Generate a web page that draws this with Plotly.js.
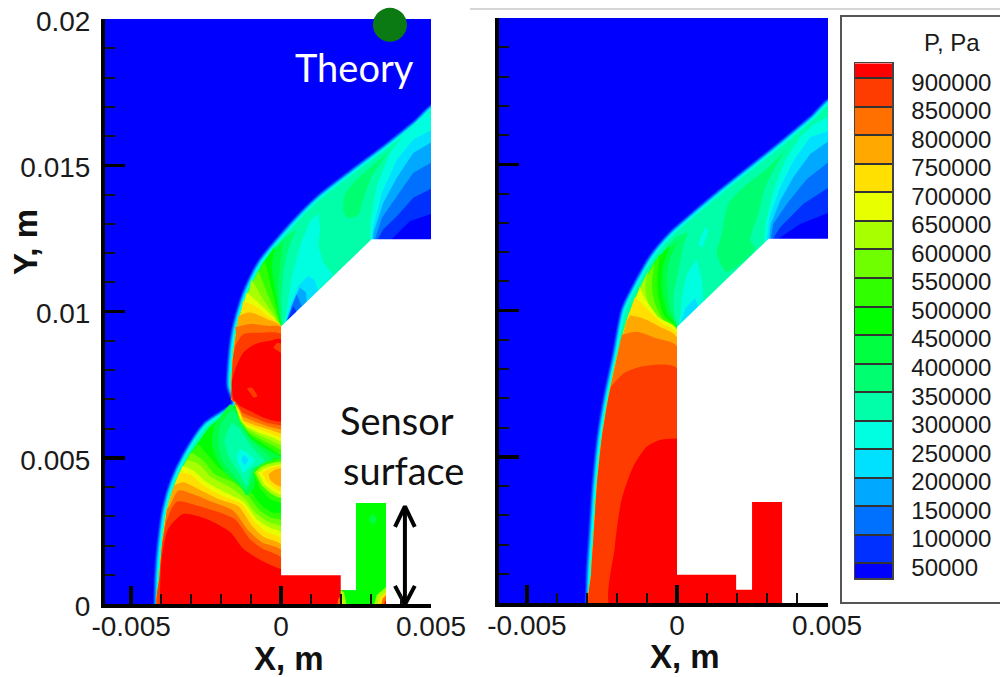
<!DOCTYPE html>
<html>
<head>
<meta charset="utf-8">
<script src="https://cdn.plot.ly/plotly-3.0.1.min.js"></script>
<style>html,body{margin:0;padding:0;background:#fff}#chart{width:1000px;height:677px}</style>
</head>
<body>
<div id="chart"></div>
<script>
// Pressure legend
const bandTop = [50000,100000,150000,200000,250000,300000,350000,400000,450000,500000,550000,600000,650000,700000,750000,800000,850000,900000,950000];
const bandColors = ['#0000ff','#0030ff','#0070ff','#00a8ff','#00e0ff','#00ffe0','#00ffa8','#00ff70','#00ff40','#00ff00','#30ff00','#70ff00','#a8ff00','#e8ff00','#ffe000','#ffa800','#ff7000','#ff3c00','#ff0000'];
const legendLevels = [50000,100000,150000,200000,250000,300000,350000,400000,450000,500000,550000,600000,650000,700000,750000,800000,850000,900000];
const legendEdges = [23700,50000,100000,150000,200000,250000,300000,350000,400000,450000,500000,550000,600000,650000,700000,750000,800000,850000,900000,926300];
const legendMid = [25000,75000,125000,175000,225000,275000,325000,375000,425000,475000,525000,575000,625000,675000,725000,775000,825000,875000,925000];
const xTicks = [-0.005,0,0.005];
const xTickText = ['-0.005','0','0.005'];
const yTicks = [0,0.005,0.01,0.015,0.02];
const yTickText = ['0','0.005','0.01','0.015','0.02'];

// All contour outlines below are x,y pairs in millimetres.
// ---- Right panel
const R_shock = [-2.93,-.3,-2.9,1.02,-2.82,2.27,-2.71,3.98,-2.54,5.68,-2.32,7.05,-2.04,8.41,-1.73,10.03,-1.29,10.95,-.79,11.83,-.13,12.62,.2,12.92,.77,13.42,1.33,13.9,2.1,14.53,2.87,15.15,3.55,15.71,4.53,16.55,5.2,17.15,5.2,-.3];
const R_strip = [-2.89,-.3,-2.86,1.02,-2.78,2.27,-2.67,3.98,-2.5,5.68,-2.28,7.05,-2.0,8.41,-1.67,9.67,-1.27,10.69,-.71,11.71,-.04,12.51];
const R_350 = [.38,12.68,.21,12.17,.05,11.37,-.12,10.46,-.06,9.56];
const R_400 = [.05,12.4,-.29,11.6,-.32,10.69,-.23,10.01,0,9.5];
const R_450 = [-.23,12.23,-.47,11.49,-.51,10.69,-.32,9.9,-.03,9.46];
const R_500 = [-.56,11.94,-.65,11.26,-.62,10.46,-.4,9.78,-.03,9.44];
const R_550 = [-.76,11.6,-.84,10.81,-.73,10.24,-.45,9.67,-.06,9.42];
const R_600 = [-.95,11.37,-1.06,10.81,-.95,10.24,-.51,9.61,-.06,9.4];
const R_650 = [-1.25,10.81,-1.06,10.41,-.62,9.78,0,9.35];
const R_700 = [-1.4,10.46,-1.06,10.12,-.56,9.61,0,9.21];
const R_750 = [-1.56,9.84,-1.12,9.73,-.56,9.44,0,9.08];
const R_800 = [-1.84,9.16,-1.34,9.27,-.67,9.04,0,8.78];
const R_850 = [-2.2,7.4,-1.79,7.84,-1.24,8.07,-.01,8.03];
const R_900 = [-.01,5.62,-.57,5.57,-1.01,5.34,-1.46,4.66,-1.85,3.52,-2.07,1.93,-2.18,-.3,3.5,-.3,3.5,5.62];
const R_fan300 = [5.2,16.7,4.55,16.37,4.1,15.92,3.6,15.12,3.21,14.1,2.94,12.96,2.9,12.3,5.2,12.3];
const R_fan250 = [5.2,16.2,4.44,15.92,3.88,15.12,3.44,14.21,3.08,13.19,2.99,12.3,5.2,12.3];
const R_fan200 = [5.2,15.9,4.44,15.35,3.88,14.56,3.44,13.76,3.13,12.96,3.05,12.3,5.2,12.3];
const R_fan150 = [5.2,15.2,4.33,14.5,3.66,13.65,3.21,12.96,3.1,12.3,5.2,12.3];
const R_fan100 = [5.2,14.3,4.21,13.65,3.44,12.85,3.1,12.3,5.2,12.3];
const R_fan50 = [5.2,13.4,4.1,12.96,3.16,12.3,5.2,12.3];
const R_core = [3.64,15.52,2.99,14.84,2.21,14.21,1.71,13.65,1.49,12.62,1.33,11.94,1.66,11.32,2.6,12.11,2.44,12.4,2.71,13.31,2.94,14.21,3.33,15.01];
const R_cyan = [.66,11.77,.33,11.26,.16,10.46,.07,9.5,.88,10.3,.83,11.03];
const R_sky = [.6,10.44,.3,10.12,.13,9.61,.71,10.12];
const R_spot = [.94,12.85,.71,12.23,.83,12.17,1.05,12.74];
const R_body = [0,9.44,0,.97,1.97,.97,1.97,.45,2.5,.45,2.5,3.45,3.5,3.45,3.5,-.3,5.3,-.3,5.3,12.45,3.05,12.45];

// ---- Left panel
const L_shock = [-4.12,-.3,-4.09,.98,-4.0,2.11,-3.84,3.25,-3.58,4.17,-3.16,5.08,-2.49,6.1,-1.53,6.83,-1.69,7.46,-1.65,8.37,-1.54,9.27,-1.35,10.05,-1.13,10.7,-.65,11.67,.08,12.58,.74,13.32,1.3,13.87,2.41,14.75,3.52,15.6,4.52,16.42,5.2,17,5.2,-.3];
const L_stripLow = [-4.08,-.3,-4.05,.98,-3.96,2.11,-3.8,3.25,-3.5,4.2,-3.07,5.08,-2.42,6.02,-1.53,6.83];
const L_stripUp = [-1.62,6.95,-1.65,7.46,-1.61,8.37,-1.5,9.27,-1.31,10.07,-1.05,10.76,-.57,11.7,.15,12.55,.81,13.27];
const L_350 = [.52,12.81,.24,12.13,.08,11.33,.02,10.31,.04,9.57];
const L_400 = [.08,12.47,-.03,11.67,-.09,10.65,0,9.63];
const L_450 = [-.2,12.24,-.31,11.56,-.2,10.76,-.03,9.63];
const L_500 = [-.53,11.73,-.31,10.76,-.03,9.57];
const L_550 = [-.76,11.39,-.42,10.53,-.03,9.53];
const L_600 = [-.98,11.1,-.53,10.31,-.03,9.51];
const L_650 = [-1.14,10.65,-.64,10.19,-.09,9.57];
const L_700 = [-1.26,10.36,-.87,10.19,-.37,9.8,.02,9.49];
const L_750 = [-1.42,9.85,-1.03,9.97,-.48,9.74,.02,9.48];
const L_800 = [-1.53,9.46,-1.03,9.57,-.48,9.51,.02,9.45];
const L_850 = [-1.53,8.82,-1.26,9.22,-.7,9.27,.02,9.22];
const L_blob = [-1.61,7.09,-1.64,7.57,-1.53,8.02,-1.26,8.59,-.87,8.88,-.42,8.99,.02,9.05,.2,7.5,.02,6.26,-.59,6.38,-1.03,6.6,-1.37,6.77,-1.57,6.98];
const L_blobSpot1 = [-1.14,7.37,-.98,7.4,-.79,7.09,-.92,7.06];
const L_blobSpot2 = [-.26,8.76,-.12,8.93,.02,8.88,.02,8.57];
const L_fan300 = [5.2,16.9,4.63,16.61,4.19,16.16,3.63,15.42,3.19,14.28,2.97,13.03,2.97,12.3,5.2,12.3];
const L_fan250 = [5.2,16.3,4.41,15.88,3.86,15.19,3.36,14.06,3.06,12.81,3.02,12.3,5.2,12.3];
const L_fan200 = [5.2,15.9,4.41,15.42,3.86,14.57,3.41,13.72,3.08,12.69,3.06,12.3,5.2,12.3];
const L_fan150 = [5.2,15.2,4.41,14.74,3.86,13.94,3.36,13.2,3.08,12.3,5.2,12.3];
const L_fan100 = [5.2,14.3,4.41,13.89,3.86,13.26,3.41,12.81,3.13,12.3,5.2,12.3];
const L_fan50 = [5.2,13.4,4.3,13.09,3.52,12.3,5.2,12.3];
const L_cyan = [1.24,13.35,.97,13.09,.63,12.24,.36,11.22,.13,9.63,1.74,11.25,1.41,11.67,1.24,12.24,1.3,12.81];
const L_sky = [.91,11.22,.58,10.88,.3,10.19,.13,9.57,1.24,10.71,1.13,11.05];
const L_low200 = [.63,10.82,.41,10.31,.21,9.74,.86,10.31,.83,10.65];
const L_low150 = [.52,10.59,.36,10.19,.19,9.68,.69,10.19];
const L_low100 = [.41,10.19,.21,9.68,.52,9.99];
const L_core = [3.63,15.53,3.08,15.02,2.52,14.51,2.13,14,2.08,13.43,2.24,13.2,2.58,13.32,2.74,13.83,3.02,14.63];
const L_mid = [-1.53,6.83,-2.42,6.02,-3.07,5.08,-3.5,4.2,-3.8,3.25,-3.96,2.11,-4.05,.98,-4.08,-.3,.3,-.3,.3,6.9];
const L_low500 = [-2.76,5.47,-2.42,5.07,-2.03,4.62,-1.48,4.27,-1.03,3.88,-.7,3.42,-.31,3.14,.02,3.08];
const L_low550 = [-2.98,5.18,-2.59,4.9,-2.2,4.44,-1.59,4.16,-1.09,3.71,-.76,3.25,-.37,2.97,.02,2.85];
const L_low600 = [-3.14,4.93,-2.76,4.79,-2.31,4.33,-1.7,3.99,-1.2,3.59,-.87,3.14,-.42,2.8,.02,2.63];
const L_low650 = [-3.28,4.73,-2.92,4.56,-2.48,4.16,-1.87,3.82,-1.26,3.5,-.81,2.91,-.42,2.63,.02,2.43];
const L_low700 = [-3.39,4.5,-3.03,4.44,-2.59,4.05,-1.98,3.71,-1.31,3.42,-.87,2.8,-.48,2.46,.02,2.23];
const L_low750 = [-3.57,4.05,-3.26,4.16,-2.76,3.93,-2.09,3.59,-1.42,3.34,-.98,2.68,-.57,2.29,.02,2.02];
const L_low800 = [-3.7,3.37,-3.42,3.88,-2.87,3.73,-2.31,3.5,-1.59,3.19,-1.09,2.51,-.64,2.11,.02,1.83];
const L_low850 = [-3.83,2.8,-3.48,3.5,-2.81,3.37,-2.03,3.12,-1.53,2.89,-1.03,2.21,-.64,1.91,.02,1.57];
const L_low900 = [-4.05,-.3,-3.98,1.55,-3.76,2.57,-3.26,3.08,-2.48,2.91,-1.7,2.46,-1.26,1.89,-.76,1.55,.02,1.2,2.05,1.2,2.05,-.3];
const L_c400 = [-1.7,6.83,-2.2,6.15,-2.31,5.52,-2.2,5.07,-1.87,4.5,-1.37,4.05,-1.14,3.71,-.87,4.05,-.87,4.5,-.26,4.96,.02,5.01,-.48,5.3,-1.03,5.7,-1.31,6.2,-1.48,6.66];
const L_c350 = [-1.64,6.66,-2.03,6.09,-2.09,5.41,-1.92,4.84,-1.48,4.27,-1.17,3.88,-.94,4.39,-.87,4.62,-.31,4.9,-.59,5.24,-.98,5.58,-1.31,6.09,-1.48,6.49];
const L_c300 = [-1.64,6.2,-1.87,5.64,-1.76,5.07,-1.42,4.5,-1.14,4.05,-.98,4.62,-.53,4.84,-.81,5.18,-1.09,5.52,-1.37,5.98];
const L_c250 = [-1.37,5.3,-1.48,5.01,-1.26,4.5,-1.09,4.62,-.87,4.9,-1.14,5.18];
const L_c200 = [-1.23,5.1,-1.33,4.93,-1.2,4.75,-1.09,4.93];
const L_hot500 = [-.92,4.5,-.64,4.79,.08,4.96,.08,3.48,-.37,3.59,-.72,3.99];
const L_hot600 = [-.87,4.5,-.59,4.73,.08,4.84,.08,3.62,-.31,3.76,-.64,4.05];
const L_hot650 = [-.76,4.5,-.48,4.67,.08,4.75,.08,3.73,-.31,3.88,-.57,4.1];
const L_hot700 = [-.64,4.48,-.37,4.64,.08,4.7,.08,3.84,-.26,3.99,-.5,4.22];
const L_hot750 = [-.42,4.44,-.2,4.59,.08,4.64,.08,3.99,-.2,4.1,-.37,4.25];
const L_up500 = [-1.53,6.83,-1.37,6.2,-1.03,5.75,-.53,5.43,.02,5.07,.3,7.5,-1.3,7.5];
const L_up550 = [-1.53,6.83,-1.37,6.26,-1.09,5.87,-.59,5.58,-.26,5.41,.02,5.24,.3,7.5,-1.3,7.5];
const L_up600 = [-1.53,6.83,-1.37,6.32,-1.12,5.98,-.64,5.73,-.26,5.55,.02,5.41,.3,7.5,-1.3,7.5];
const L_up650 = [-1.53,6.83,-1.37,6.38,-1.17,6.07,-.7,5.84,-.31,5.7,.02,5.55,.3,7.5,-1.3,7.5];
const L_up700 = [-1.53,6.83,-1.37,6.49,-1.2,6.15,-.76,5.98,-.31,5.81,.02,5.68,.3,7.5,-1.3,7.5];
const L_up750 = [-1.53,6.83,-1.39,6.6,-1.26,6.26,-.87,6.11,-.37,5.96,.02,5.82,.3,7.5,-1.3,7.5];
const L_up800 = [-1.53,6.83,-1.41,6.72,-1.28,6.41,-.87,6.23,-.42,6.07,.02,5.96,.3,7.5,-1.3,7.5];
const L_up850 = [-1.53,6.83,-1.46,6.83,-1.31,6.55,-.92,6.38,-.48,6.2,.02,6.09,.3,7.5,-1.3,7.5];
const L_body = [0,9.49,0,.98,1.99,.98,1.99,.47,2.5,.47,2.5,3.45,3.5,3.45,3.5,-.3,5.3,-.3,5.3,12.47,3.02,12.47];
const S_green = [1.99,-.3,1.99,.47,2.5,.47,2.5,3.45,3.5,3.45,3.5,-.3];
const S_spot = [3.07,3.1,2.93,2.91,3.07,2.72,3.2,2.91];
const S_r600 = [3.02,-.3,3.19,.3,3.5,.58,3.5,-.3];
const S_r700 = [3.16,-.3,3.3,.24,3.5,.41,3.5,-.3];
const S_r800 = [3.27,-.3,3.39,.18,3.5,.3,3.5,-.3];
const S_r900 = [3.39,-.3,3.46,.07,3.5,.13,3.5,-.3];
const S_l600 = [1.99,.47,2.1,.4,2.24,-.3,1.99,-.3];
const S_l700 = [1.99,.35,2.02,.3,2.12,-.3,1.99,-.3];
const S_l800 = [1.85,-.3,1.9,.15,1.99,.28,2.05,-.3];
const arrowX = [4.13,4.13,null,3.8,4.13,4.46,null,3.8,4.13,4.46];
const arrowY = [0,3.34,null,2.64,3.34,2.64,null,.62,-.02,.62];

const colorOf = p => bandColors[bandTop.indexOf(p)];
function unzip(a){const x=[],y=[];for(let i=0;i<a.length;i+=2){x.push(a[i]==null?null:a[i]/1000);y.push(a[i+1]==null?null:a[i+1]/1000);}return {x,y};}
function poly(a,p,ax,opt){
  opt=opt||{};const d=unzip(a);
  return {type:'scatter',mode:'lines',x:d.x,y:d.y,xaxis:ax[0],yaxis:ax[1],fill:'toself',
    fillcolor:opt.fill||colorOf(p),hoverinfo:'skip',showlegend:false,
    line:{width:opt.w||0,color:opt.lc||colorOf(p),shape:opt.linear?'linear':'spline',smoothing:.7,simplify:false}};
}
// close a level curve against the inner edge of the shock, below the curve start
function band(curve,strip,cornerX,cornerY,minY){
  const out=curve.slice();out.push(cornerX,cornerY);
  for(let i=0;i<strip.length;i+=2){ if(strip[i+1]<curve[1]-.02 && strip[i+1]>=minY) out.push(strip[i],strip[i+1]); }
  return out;
}
const traces=[];
function shock(a,ax){
  [[9,100000],[7,150000],[5.2,200000],[3.6,250000],[2,300000]].forEach(s=>{
    traces.push(poly(a,350000,ax,{w:s[0],lc:colorOf(s[1]),fill:colorOf(350000)}));
  });
}
// LEFT
const LA=['x','y'];
shock(L_shock,LA);
[[400000,L_350],[450000,L_400],[500000,L_450],[550000,L_500],[600000,L_550],[650000,L_600],[700000,L_650],[750000,L_700],[800000,L_750],[850000,L_800],[900000,L_850]]
 .forEach(b=>traces.push(poly(band(b[1],L_stripUp,.3,6.9,6.9),b[0],LA)));
[[300000,L_fan300],[250000,L_fan250],[200000,L_fan200],[150000,L_fan150],[100000,L_fan100],[50000,L_fan50]]
 .forEach(b=>traces.push(poly(b[1],b[0],LA,{linear:true})));
traces.push(poly(L_core,400000,LA));
traces.push(poly(L_cyan,300000,LA,{linear:true}));
traces.push(poly(L_sky,250000,LA,{linear:true}));
traces.push(poly(L_low200,200000,LA,{linear:true}));
traces.push(poly(L_low150,150000,LA,{linear:true}));
traces.push(poly(L_low100,100000,LA,{linear:true}));
traces.push(poly(L_mid,500000,LA,{linear:true}));
[[550000,L_low500],[600000,L_low550],[650000,L_low600],[700000,L_low650],[750000,L_low700],[800000,L_low750],[850000,L_low800],[900000,L_low850]]
 .forEach(b=>traces.push(poly(band(b[1],L_stripLow,.3,-.3,-1),b[0],LA)));
traces.push(poly(L_low900,950000,LA));
[[450000,L_c400],[400000,L_c350],[350000,L_c300],[300000,L_c250],[250000,L_c200]]
 .forEach(b=>traces.push(poly(b[1],b[0],LA)));
[[550000,L_hot500],[650000,L_hot600],[700000,L_hot650],[750000,L_hot700],[800000,L_hot750]]
 .forEach(b=>traces.push(poly(b[1],b[0],LA)));
[[550000,L_up500],[600000,L_up550],[650000,L_up600],[700000,L_up650],[750000,L_up700],[800000,L_up750],[850000,L_up800],[900000,L_up850]]
 .forEach(b=>traces.push(poly(b[1],b[0],LA,{linear:true})));
traces.push(poly(L_blob,950000,LA));
traces.push(poly(L_blobSpot1,900000,LA));
traces.push(poly(L_blobSpot2,900000,LA));
traces.push(poly(L_body,0,LA,{fill:'#ffffff',linear:true}));
traces.push(poly(S_green,500000,LA,{linear:true}));
traces.push(poly(S_spot,450000,LA));
traces.push(poly(S_r600,650000,LA,{linear:true}));
traces.push(poly(S_r700,750000,LA,{linear:true}));
traces.push(poly(S_r800,850000,LA,{linear:true}));
traces.push(poly(S_r900,950000,LA,{linear:true}));
traces.push(poly(S_l600,650000,LA,{linear:true}));
traces.push(poly(S_l700,750000,LA,{linear:true}));
traces.push(poly(S_l800,850000,LA,{linear:true}));
// RIGHT
const RA=['x2','y2'];
shock(R_shock,RA);
[[400000,R_350],[450000,R_400],[500000,R_450],[550000,R_500],[600000,R_550],[650000,R_600],[700000,R_650],[750000,R_700],[800000,R_750],[850000,R_800],[900000,R_850]]
 .forEach(b=>traces.push(poly(band(b[1],R_strip,.3,-.3,-1),b[0],RA)));
traces.push(poly(R_900,950000,RA));
[[300000,R_fan300],[250000,R_fan250],[200000,R_fan200],[150000,R_fan150],[100000,R_fan100],[50000,R_fan50]]
 .forEach(b=>traces.push(poly(b[1],b[0],RA,{linear:true})));
traces.push(poly(R_core,400000,RA));
traces.push(poly(R_cyan,300000,RA,{linear:true}));
traces.push(poly(R_sky,250000,RA,{linear:true}));
traces.push(poly(R_spot,300000,RA));
traces.push(poly(R_body,0,RA,{fill:'#ffffff',linear:true}));
// Theory point and sensor arrow
const ar=unzip(arrowX.flatMap((v,i)=>[v,arrowY[i]]));
traces.push({type:'scatter',mode:'lines',x:ar.x,y:ar.y,xaxis:'x',yaxis:'y',cliponaxis:false,hoverinfo:'skip',showlegend:false,line:{color:'#000',width:4}});
traces.push({type:'scatter',mode:'markers',name:'Theory',x:[0.00363],y:[0.0198],xaxis:'x',yaxis:'y',cliponaxis:false,hoverinfo:'skip',showlegend:false,marker:{size:34,color:'#0b7a12'}});
// Legend strip
traces.push({type:'heatmap',xaxis:'x3',yaxis:'y3',x:[0,1],y:legendEdges,z:legendMid.map(v=>[v]),zmin:0,zmax:950000,showscale:false,hoverinfo:'skip',
  colorscale:bandColors.flatMap((c,i)=>[[i/19,c],[(i+1)/19,c]])});

const tf={family:'"Liberation Sans",Arial,sans-serif',size:28,color:'#1a1a1a'};
function xa(range,dom){return {domain:dom,range,tickmode:'array',tickvals:xTicks,ticktext:xTickText,showgrid:false,zeroline:false,showline:true,linewidth:4,linecolor:'#000',ticks:'inside',ticklen:18,tickwidth:3.5,tickcolor:'#000',tickfont:tf,ticklabelstandoff:-6,
  minor:{ticks:'inside',dtick:0.001,tick0:0,ticklen:10,tickwidth:2,tickcolor:'#111',showgrid:false},layer:'above traces'};}
function ya(dom,labels,anchor){return {domain:dom,range:[0,0.02],anchor,tickmode:'array',tickvals:yTicks,ticktext:yTickText,showticklabels:labels,showgrid:false,zeroline:false,showline:true,linewidth:4,linecolor:'#000',ticks:'inside',ticklen:20,tickwidth:3.5,tickcolor:'#000',tickfont:tf,ticklabelstandoff:5,ticklabelshift:2,
  minor:{ticks:'inside',dtick:0.001,tick0:0,ticklen:10,tickwidth:2,tickcolor:'#111',showgrid:false},layer:'above traces'};}
const H=677;
const sans='"Liberation Sans",Arial,sans-serif';
function note(text,px,py,family,size,color,extra){
  return Object.assign({text,xref:'paper',yref:'paper',x:px/1000,y:(H-py)/H,xanchor:'center',yanchor:'middle',showarrow:false,font:{family,size,color}},extra||{});
}
const layout={width:1000,height:H,margin:{l:0,r:0,t:0,b:0},paper_bgcolor:'#fff',plot_bgcolor:'#0000ff',showlegend:false,
  font:{family:sans},
  xaxis:Object.assign(xa([-0.00587,0.005],[.105,.431]),{anchor:'y'}),
  yaxis:ya([(H-604)/H,(H-19)/H],true,'x'),
  xaxis2:Object.assign(xa([-0.00593,0.00503],[.499,.828]),{anchor:'y2'}),
  yaxis2:ya([(H-603)/H,(H-18)/H],false,'x2'),
  xaxis3:{domain:[.855,.892],range:[0,1],anchor:'y3',showticklabels:false,ticks:'',showgrid:false,zeroline:false,showline:true,mirror:true,linecolor:'#444',linewidth:1.5},
  yaxis3:{domain:[(H-578.3)/H,(H-63.3)/H],range:[23700,926300],anchor:'x3',side:'right',tickmode:'array',tickvals:legendLevels,ticktext:legendLevels.map(String),
    ticks:'inside',ticklen:37,tickwidth:2,tickcolor:'#333',showgrid:false,zeroline:false,showline:true,mirror:true,linecolor:'#444',linewidth:1.5,ticklabelstandoff:13,ticklabelshift:4,
    tickfont:{family:sans,size:24,color:'#1a1a1a'},layer:'above traces'},
  shapes:[
    {type:'rect',xref:'paper',yref:'paper',x0:.841,x1:1.01,y0:(H-603)/H,y1:(H-16)/H,line:{color:'#555',width:2},fillcolor:'#fff',layer:'below'},
    {type:'line',xref:'paper',yref:'paper',x0:.47,x1:1,y0:(H-9)/H,y1:(H-9)/H,line:{color:'#d6d6d6',width:2},layer:'below'}
  ],
  annotations:[
    note('<b>Y, m</b>',25,242,sans,33,'#111',{textangle:-90}),
    note('<b>X, m</b>',289,658,sans,33,'#111'),
    note('<b>X, m</b>',685,656,sans,33,'#111'),
    note('P, Pa',952,42,sans,24,'#1a1a1a'),
    note('Theory',354,67,'Lato,sans-serif',38,'#fff'),
    note('Sensor',397,420,'Lato,sans-serif',38,'#111'),
    note('surface',403,470,'Lato,sans-serif',38,'#111')
  ]
};
Plotly.newPlot('chart',traces,layout,{staticPlot:true,displayModeBar:false});
</script>
</body>
</html>
